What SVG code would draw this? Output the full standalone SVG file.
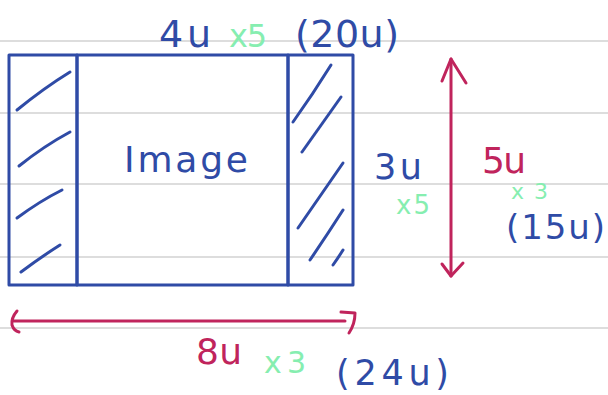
<svg xmlns="http://www.w3.org/2000/svg" width="608" height="395" viewBox="0 0 608 395">
<style>
.paper{stroke:#d2d2d2;stroke-width:1.6}
.blue{stroke:#2f4ba6;fill:none;stroke-width:3;stroke-linecap:round;stroke-linejoin:round}
.red{stroke:#c0245c;fill:none;stroke-width:3;stroke-linecap:round;stroke-linejoin:round}
text{font-family:"DejaVu Sans","Liberation Sans",sans-serif}
.tb{fill:#2f4ba6}
.tr{fill:#c0245c}
.tg{fill:#86eeb0}
</style>
<rect width="608" height="395" fill="#ffffff"/>
<g id="paper-lines">
<line class="paper" x1="0" y1="41" x2="608" y2="41"/>
<line class="paper" x1="0" y1="113" x2="608" y2="113"/>
<line class="paper" x1="0" y1="184" x2="608" y2="184"/>
<line class="paper" x1="0" y1="257" x2="608" y2="257"/>
<line class="paper" x1="0" y1="328" x2="608" y2="328"/>
</g>
<g id="left-border">
<rect class="blue" x="9" y="55" width="68" height="230"/>
<path class="blue" d="M17 110 Q44 88 70 72"/>
<path class="blue" d="M19 166 Q44 146 70 132"/>
<path class="blue" d="M17 218 Q40 201 62 190"/>
<path class="blue" d="M21 272 Q41 257 60 245"/>
</g>
<g id="image">
<rect class="blue" x="77" y="55" width="211" height="230"/>
<text class="tb" x="124" y="172" font-size="36" textLength="124" lengthAdjust="spacing">Image</text>
</g>
<g id="right-border">
<rect class="blue" x="288" y="55" width="65" height="230"/>
<path class="blue" d="M293 122 Q313 94 331 65"/>
<path class="blue" d="M302 152 Q322 124 341 97"/>
<path class="blue" d="M298 228 Q320 196 343 163"/>
<path class="blue" d="M310 260 Q327 235 343 210"/>
<path class="blue" d="M333 265 Q338 258 343 250"/>
</g>
<g id="connectors">
<path class="red" d="M451 59 L451 276"/>
<path class="red" d="M442 81 L451 59 L466 83"/>
<path class="red" d="M442 264 L451 276 L463 263"/>
<path class="red" d="M13 321 L345 321"/>
<path class="red" d="M17 311 Q11 318 12 325 Q14 331 19 332"/>
<path class="red" d="M341 312 L355 313 Q355 324 349 333"/>
</g>
<g id="labels">
<text class="tb" x="159" y="47" font-size="38" textLength="52" lengthAdjust="spacing">4u</text>
<text class="tg" x="229" y="47" font-size="32" textLength="38" lengthAdjust="spacing">x5</text>
<text class="tb" x="295" y="47" font-size="38" textLength="104" lengthAdjust="spacing">(20u)</text>
<text class="tb" x="374" y="179" font-size="35" textLength="48" lengthAdjust="spacing">3u</text>
<text class="tg" x="396" y="214" font-size="26" textLength="34" lengthAdjust="spacing">x5</text>
<text class="tr" x="482" y="173" font-size="36" textLength="44" lengthAdjust="spacing">5u</text>
<text class="tg" x="511" y="199" font-size="22" textLength="37" lengthAdjust="spacing">x3</text>
<text class="tb" x="506" y="239" font-size="34" textLength="99" lengthAdjust="spacing">(15u)</text>
<text class="tr" x="196" y="364" font-size="36" textLength="46" lengthAdjust="spacing">8u</text>
<text class="tg" x="264" y="373" font-size="30" textLength="42" lengthAdjust="spacing">x3</text>
<text class="tb" x="336" y="385" font-size="35" textLength="113" lengthAdjust="spacing">(24u)</text>
</g>
</svg>
